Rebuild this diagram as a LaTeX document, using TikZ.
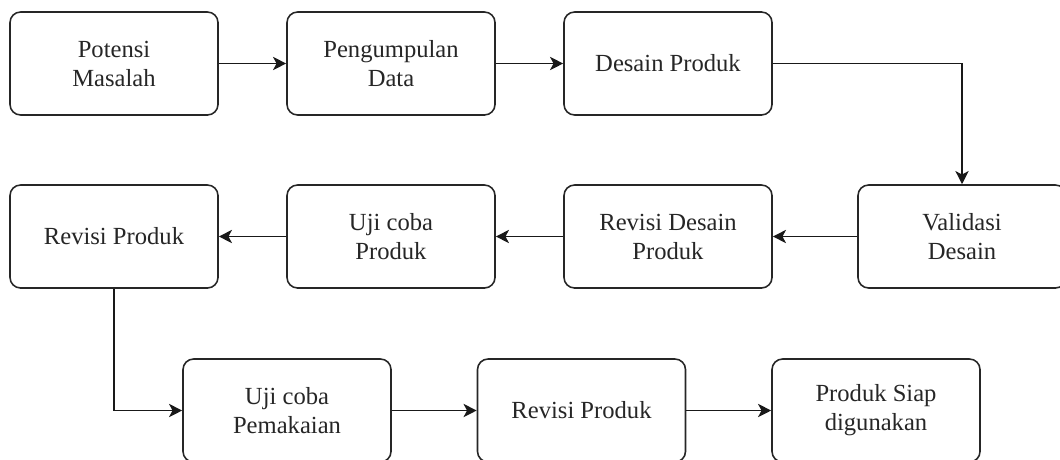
\documentclass[tikz,border=0pt]{standalone}
\usepackage{fontspec}
\setmainfont{Liberation Serif}
\usetikzlibrary{arrows.meta}
\begin{document}
\begin{tikzpicture}
    \useasboundingbox (0,0) rectangle (21.2,-9.18);

    \tikzstyle{pnode} = [draw=black!85, line width=0.9pt, rectangle, rounded corners = 6pt, minimum width = 4.16cm, minimum height = 2.06cm, inner sep = 2pt, align=center, text=black!85, font=\fontsize{14}{16.5}\selectfont]
    \tikzstyle{parrow} = [line width=0.9pt, draw=black!90, -{Stealth[length=7.5pt, width=7.5pt, inset=2pt]}]

    % row 1
    \node[pnode] (potensi) at (2.28,-1.27) {Potensi\\Masalah};
    \node[pnode] (kumpul) at (7.82,-1.27) {Pengumpulan\\Data};
    \node[pnode] (desain) at (13.36,-1.27) {Desain Produk};

    % row 2
    \node[pnode] (revproduk) at (2.28,-4.73) {Revisi Produk};
    \node[pnode] (ujicoba) at (7.82,-4.73) {Uji coba\\Produk};
    \node[pnode] (revdesain) at (13.36,-4.73) {Revisi Desain\\Produk};
    \node[pnode] (validasi) at (19.24,-4.73) {Validasi\\Desain};

    % row 3
    \node[pnode] (pakai) at (5.74,-8.21) {Uji coba\\Pemakaian};
    \node[pnode] (revproduk2) at (11.63,-8.21) {Revisi Produk};
    \node[pnode] (siap) at (17.52,-8.21) {Produk Siap\\digunakan};

    \draw[parrow] (potensi) -- (kumpul);
    \draw[parrow] (kumpul) -- (desain);
    \draw[parrow] (desain.east) -| (validasi.north);

    \draw[parrow] (validasi) -- (revdesain);
    \draw[parrow] (revdesain) -- (ujicoba);
    \draw[parrow] (ujicoba) -- (revproduk);
    \draw[parrow] (revproduk.south) |- (pakai.west);

    \draw[parrow] (pakai) -- (revproduk2);
    \draw[parrow] (revproduk2) -- (siap);
\end{tikzpicture}
\end{document}
